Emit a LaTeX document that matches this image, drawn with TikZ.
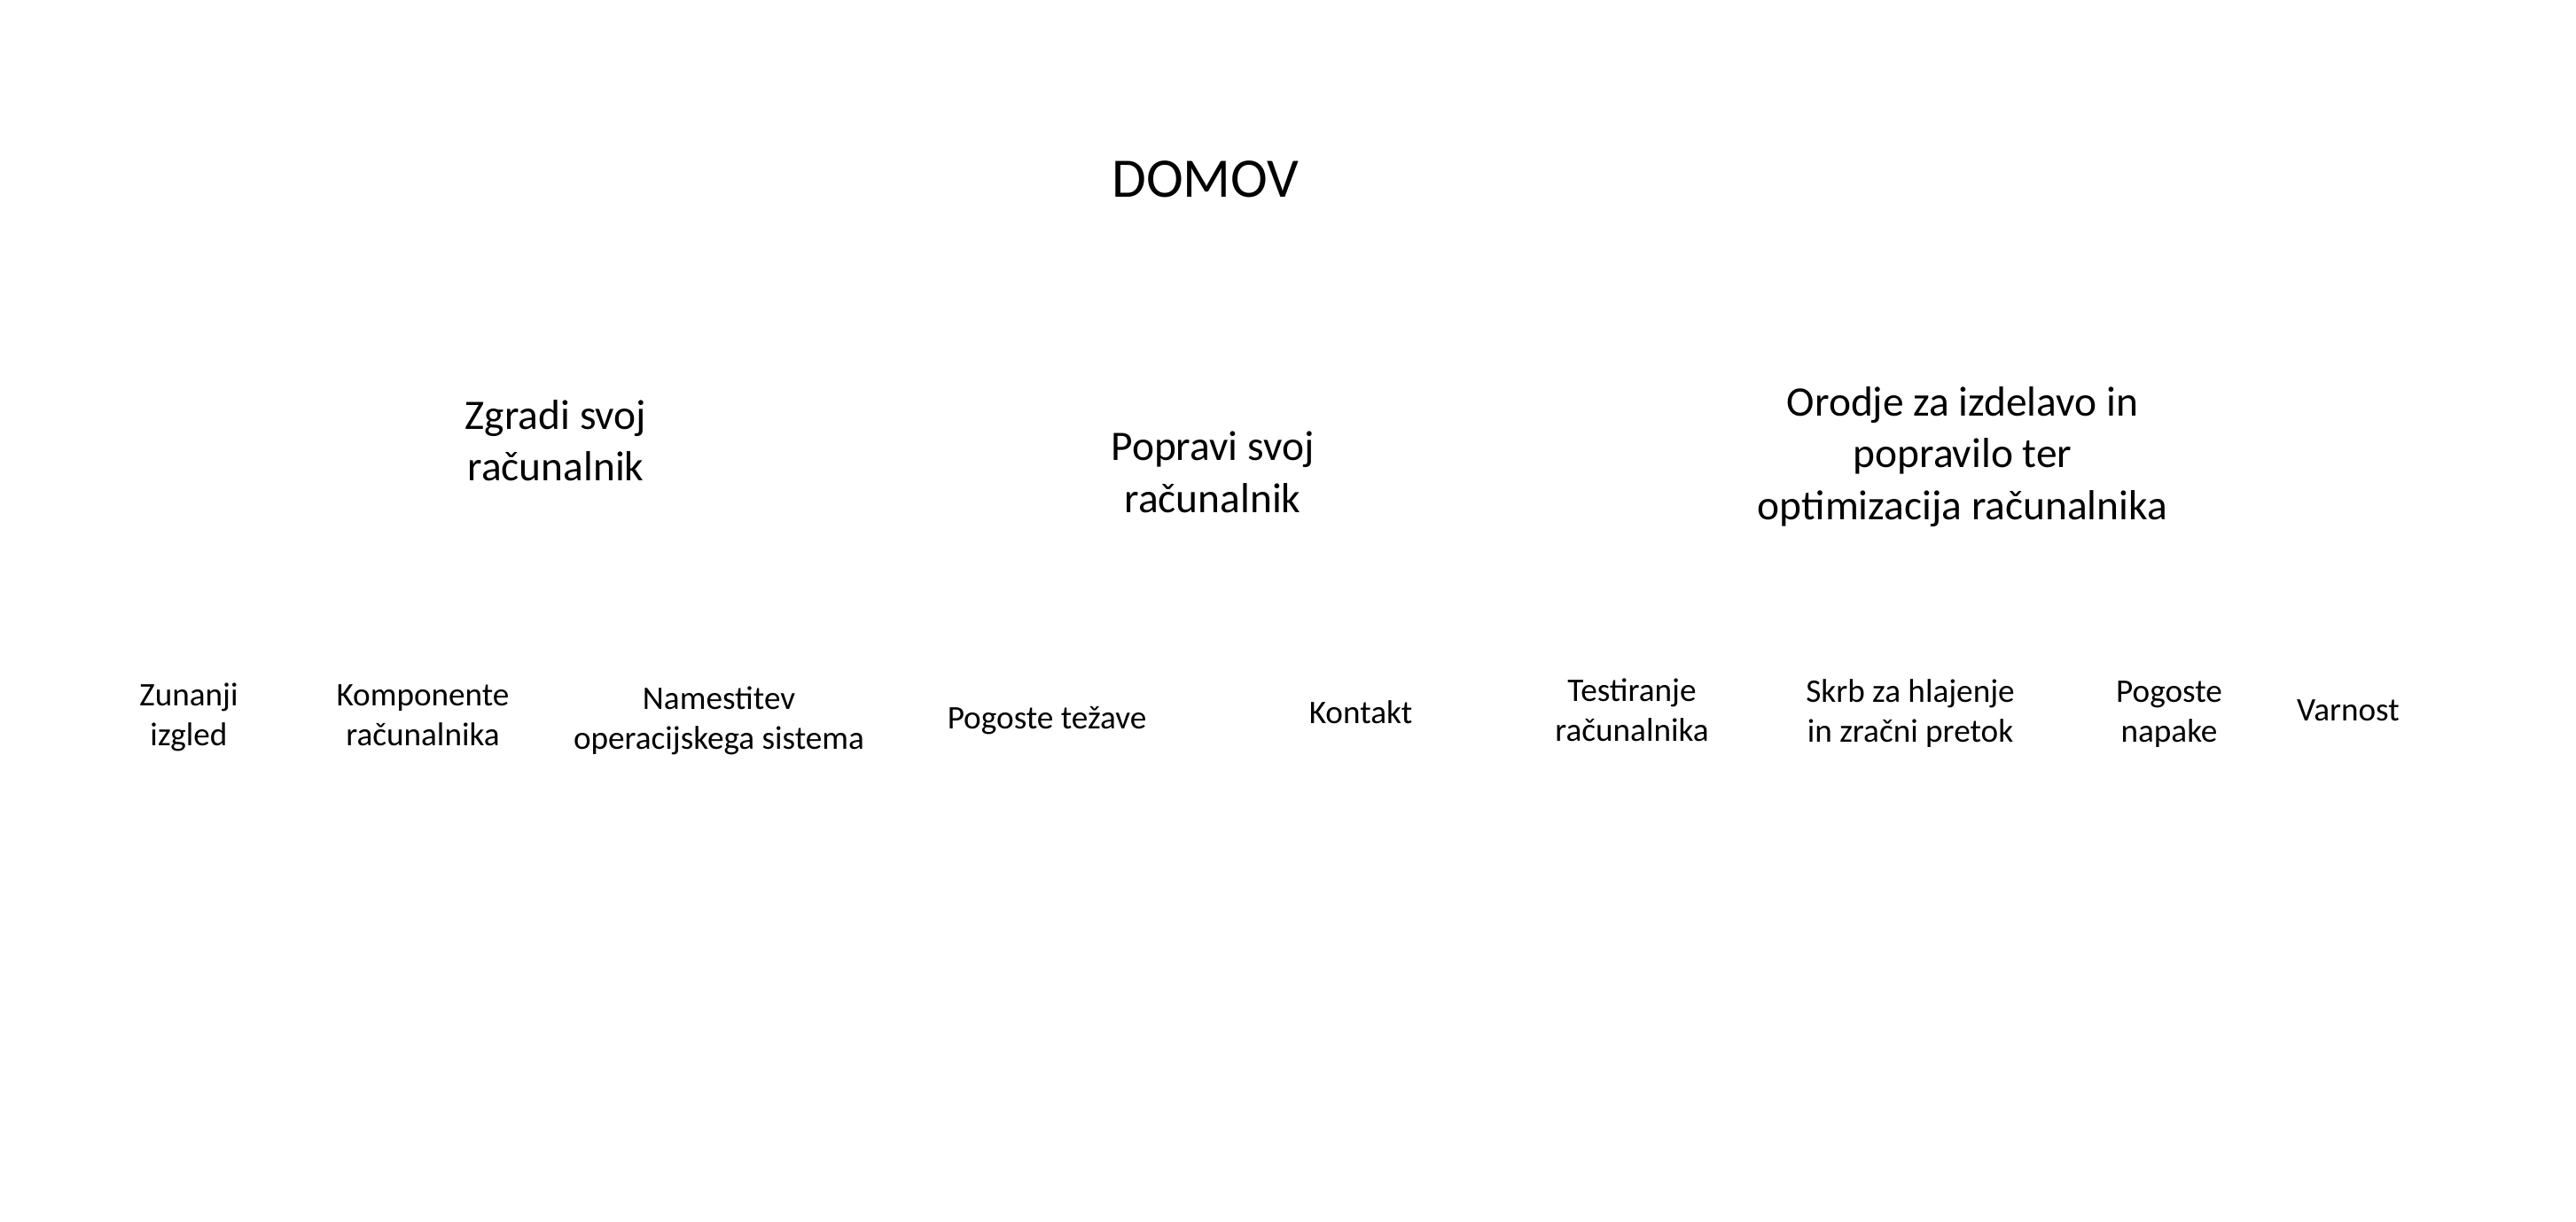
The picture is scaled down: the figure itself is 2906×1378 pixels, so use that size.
\documentclass[tikz,border=0pt]{standalone}
\usepackage{fontspec}
\setmainfont{Carlito}
\begin{document}
\begin{tikzpicture}[x=0.5pt,y=-0.5pt,
  every node/.style={inner sep=0pt, outer sep=0pt, align=center, text=black},
  titlebox/.style={font=\fontsize{31.5}{38.5}\selectfont},
  headbox/.style={font=\fontsize{23.7}{29.2}\selectfont},
  itembox/.style={font=\fontsize{18.6}{22.5}\selectfont}]
\fill[white] (0,0) rectangle (2906,1378);
\useasboundingbox (0,0) rectangle (2906,1378);
\newcommand{\st}{\strut}
% title
\node[titlebox] (domov) at (1360,206.6) {\st DOMOV};
% headings
\node[headbox] (zgradi) at (627,502) {\st Zgradi svoj\\\st računalnik};
\node[headbox] (popravi) at (1368,537.5) {\st Popravi svoj\\\st računalnik};
\node[headbox] (orodje) at (2214,516) {\st Orodje za izdelavo in\\\st popravilo ter\\\st optimizacija računalnika};
% items
\node[itembox] (zunanji) at (213,809.5) {\st Zunanji\\\st izgled};
\node[itembox] (komp) at (477,810) {\st Komponente\\\st računalnika};
\node[itembox] (namest) at (811,814) {\st Namestitev\\\st operacijskega sistema};
\node[itembox] (tezave) at (1181,813) {\st Pogoste težave};
\node[itembox] (kontakt) at (1535,807) {\st Kontakt};
\node[itembox] (test) at (1841,805) {\st Testiranje\\\st računalnika};
\node[itembox] (skrb) at (2155,805.5) {\st Skrb za hlajenje\\\st in zračni pretok};
\node[itembox] (napake) at (2447,805.5) {\st Pogoste\\\st napake};
\node[itembox] (varnost) at (2649,804) {\st Varnost};
\end{tikzpicture}
\end{document}
